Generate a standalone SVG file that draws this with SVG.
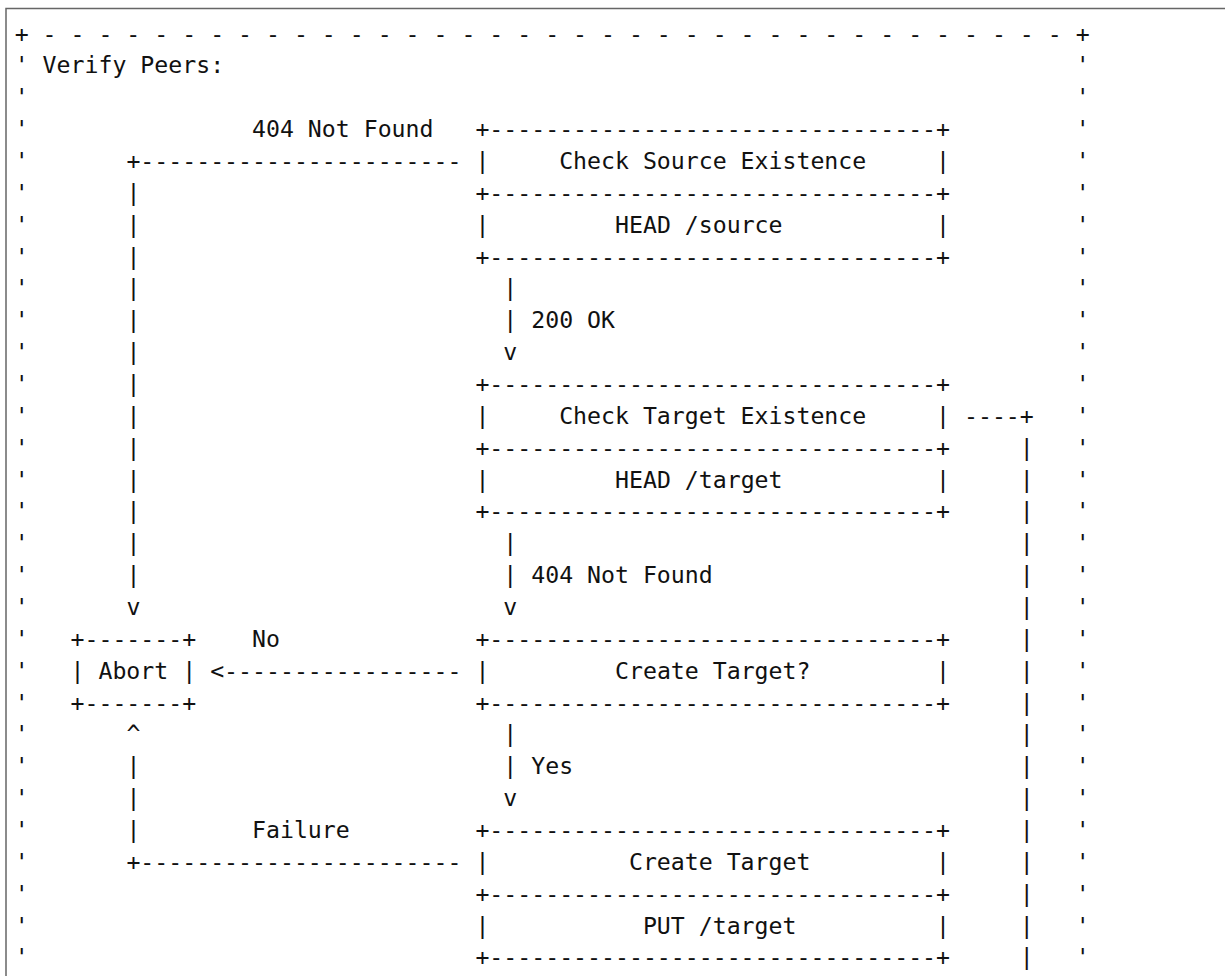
<svg xmlns="http://www.w3.org/2000/svg" width="1225" height="976" viewBox="0 0 1225 976">
<style>
.t{font-family:"DejaVu Sans Mono",monospace;font-size:23.19px;fill:#111;}
.frame{fill:none;stroke:#666;stroke-width:1.5;}
</style>
<rect width="1225" height="976" fill="#fff"/>
<path class="frame" d="M6,976 V8.5 H1225"/>
<g id="verify-peers" class="t">
<text x="14.7" y="41.5">+ - - - - - - - - - - - - - - - - - - - - - - - - - - - - - - - - - - - - - +</text>
<text x="42.62" y="73.36">Verify Peers:</text>
<text><tspan x="14.7" y="73.36">'</tspan><tspan x="14.7" y="105.22">'</tspan><tspan x="14.7" y="137.08">'</tspan><tspan x="14.7" y="168.94">'</tspan><tspan x="14.7" y="200.8">'</tspan><tspan x="14.7" y="232.66">'</tspan><tspan x="14.7" y="264.52">'</tspan><tspan x="14.7" y="296.38">'</tspan><tspan x="14.7" y="328.24">'</tspan><tspan x="14.7" y="360.1">'</tspan><tspan x="14.7" y="391.96">'</tspan><tspan x="14.7" y="423.82">'</tspan><tspan x="14.7" y="455.68">'</tspan><tspan x="14.7" y="487.54">'</tspan><tspan x="14.7" y="519.4">'</tspan><tspan x="14.7" y="551.26">'</tspan><tspan x="14.7" y="583.12">'</tspan><tspan x="14.7" y="614.98">'</tspan><tspan x="14.7" y="646.84">'</tspan><tspan x="14.7" y="678.7">'</tspan><tspan x="14.7" y="710.56">'</tspan><tspan x="14.7" y="742.42">'</tspan><tspan x="14.7" y="774.28">'</tspan><tspan x="14.7" y="806.14">'</tspan><tspan x="14.7" y="838">'</tspan><tspan x="14.7" y="869.86">'</tspan><tspan x="14.7" y="901.72">'</tspan><tspan x="14.7" y="933.58">'</tspan><tspan x="14.7" y="965.44">'</tspan></text>
<text><tspan x="1075.66" y="73.36">'</tspan><tspan x="1075.66" y="105.22">'</tspan><tspan x="1075.66" y="137.08">'</tspan><tspan x="1075.66" y="168.94">'</tspan><tspan x="1075.66" y="200.8">'</tspan><tspan x="1075.66" y="232.66">'</tspan><tspan x="1075.66" y="264.52">'</tspan><tspan x="1075.66" y="296.38">'</tspan><tspan x="1075.66" y="328.24">'</tspan><tspan x="1075.66" y="360.1">'</tspan><tspan x="1075.66" y="391.96">'</tspan><tspan x="1075.66" y="423.82">'</tspan><tspan x="1075.66" y="455.68">'</tspan><tspan x="1075.66" y="487.54">'</tspan><tspan x="1075.66" y="519.4">'</tspan><tspan x="1075.66" y="551.26">'</tspan><tspan x="1075.66" y="583.12">'</tspan><tspan x="1075.66" y="614.98">'</tspan><tspan x="1075.66" y="646.84">'</tspan><tspan x="1075.66" y="678.7">'</tspan><tspan x="1075.66" y="710.56">'</tspan><tspan x="1075.66" y="742.42">'</tspan><tspan x="1075.66" y="774.28">'</tspan><tspan x="1075.66" y="806.14">'</tspan><tspan x="1075.66" y="838">'</tspan><tspan x="1075.66" y="869.86">'</tspan><tspan x="1075.66" y="901.72">'</tspan><tspan x="1075.66" y="933.58">'</tspan><tspan x="1075.66" y="965.44">'</tspan></text>
</g>
<g id="check-source" class="t">
<text x="475.38" y="137.08">+--------------------------------+</text>
<text x="475.38" y="168.94">|</text><text x="559.14" y="168.94">Check Source Existence</text><text x="936.06" y="168.94">|</text>
<text x="475.38" y="200.8">+--------------------------------+</text>
<text x="475.38" y="232.66">|</text><text x="615" y="232.66">HEAD /source</text><text x="936.06" y="232.66">|</text>
<text x="475.38" y="264.52">+--------------------------------+</text>
</g>
<g id="check-target" class="t">
<text x="475.38" y="391.96">+--------------------------------+</text>
<text x="475.38" y="423.82">|</text><text x="559.14" y="423.82">Check Target Existence</text><text x="936.06" y="423.82">|</text>
<text x="475.38" y="455.68">+--------------------------------+</text>
<text x="475.38" y="487.54">|</text><text x="615" y="487.54">HEAD /target</text><text x="936.06" y="487.54">|</text>
<text x="475.38" y="519.4">+--------------------------------+</text>
</g>
<g id="create-target-q" class="t">
<text x="475.38" y="646.84">+--------------------------------+</text>
<text x="475.38" y="678.7">|</text><text x="615" y="678.7">Create Target?</text><text x="936.06" y="678.7">|</text>
<text x="475.38" y="710.56">+--------------------------------+</text>
</g>
<g id="create-target" class="t">
<text x="475.38" y="838">+--------------------------------+</text>
<text x="475.38" y="869.86">|</text><text x="628.94" y="869.86">Create Target</text><text x="936.06" y="869.86">|</text>
<text x="475.38" y="901.72">+--------------------------------+</text>
<text x="475.38" y="933.58">|</text><text x="642.9" y="933.58">PUT /target</text><text x="936.06" y="933.58">|</text>
<text x="475.38" y="965.44">+--------------------------------+</text>
</g>
<g id="abort" class="t">
<text x="70.54" y="646.84">+-------+</text>
<text x="70.54" y="678.7">| Abort |</text>
<text x="70.54" y="710.56">+-------+</text>
</g>
<g id="connectors" class="t">
<text x="252.02" y="137.08">404 Not Found</text>
<text x="126.38" y="168.94">+-----------------------</text>
<text><tspan x="126.38" y="200.8">|</tspan><tspan x="126.38" y="232.66">|</tspan><tspan x="126.38" y="264.52">|</tspan><tspan x="126.38" y="296.38">|</tspan><tspan x="126.38" y="328.24">|</tspan><tspan x="126.38" y="360.1">|</tspan><tspan x="126.38" y="391.96">|</tspan><tspan x="126.38" y="423.82">|</tspan><tspan x="126.38" y="455.68">|</tspan><tspan x="126.38" y="487.54">|</tspan><tspan x="126.38" y="519.4">|</tspan><tspan x="126.38" y="551.26">|</tspan><tspan x="126.38" y="583.12">|</tspan><tspan x="126.38" y="614.98">v</tspan></text>
<text><tspan x="503.3" y="296.38">|</tspan><tspan x="503.3" y="328.24">|</tspan><tspan x="503.3" y="360.1">v</tspan></text>
<text x="531.22" y="328.24">200 OK</text>
<text x="963.98" y="423.82">----+</text>
<text><tspan x="1019.82" y="455.68">|</tspan><tspan x="1019.82" y="487.54">|</tspan><tspan x="1019.82" y="519.4">|</tspan><tspan x="1019.82" y="551.26">|</tspan><tspan x="1019.82" y="583.12">|</tspan><tspan x="1019.82" y="614.98">|</tspan><tspan x="1019.82" y="646.84">|</tspan><tspan x="1019.82" y="678.7">|</tspan><tspan x="1019.82" y="710.56">|</tspan><tspan x="1019.82" y="742.42">|</tspan><tspan x="1019.82" y="774.28">|</tspan><tspan x="1019.82" y="806.14">|</tspan><tspan x="1019.82" y="838">|</tspan><tspan x="1019.82" y="869.86">|</tspan><tspan x="1019.82" y="901.72">|</tspan><tspan x="1019.82" y="933.58">|</tspan><tspan x="1019.82" y="965.44">|</tspan></text>
<text><tspan x="503.3" y="551.26">|</tspan><tspan x="503.3" y="583.12">|</tspan><tspan x="503.3" y="614.98">v</tspan></text>
<text x="531.22" y="583.12">404 Not Found</text>
<text x="252.02" y="646.84">No</text>
<text x="210.14" y="678.7">&lt;-----------------</text>
<text><tspan x="126.38" y="742.42">^</tspan><tspan x="126.38" y="774.28">|</tspan><tspan x="126.38" y="806.14">|</tspan><tspan x="126.38" y="838">|</tspan></text>
<text><tspan x="503.3" y="742.42">|</tspan><tspan x="503.3" y="774.28">|</tspan><tspan x="503.3" y="806.14">v</tspan></text>
<text x="531.22" y="774.28">Yes</text>
<text x="252.02" y="838">Failure</text>
<text x="126.38" y="869.86">+-----------------------</text>
</g>
</svg>
